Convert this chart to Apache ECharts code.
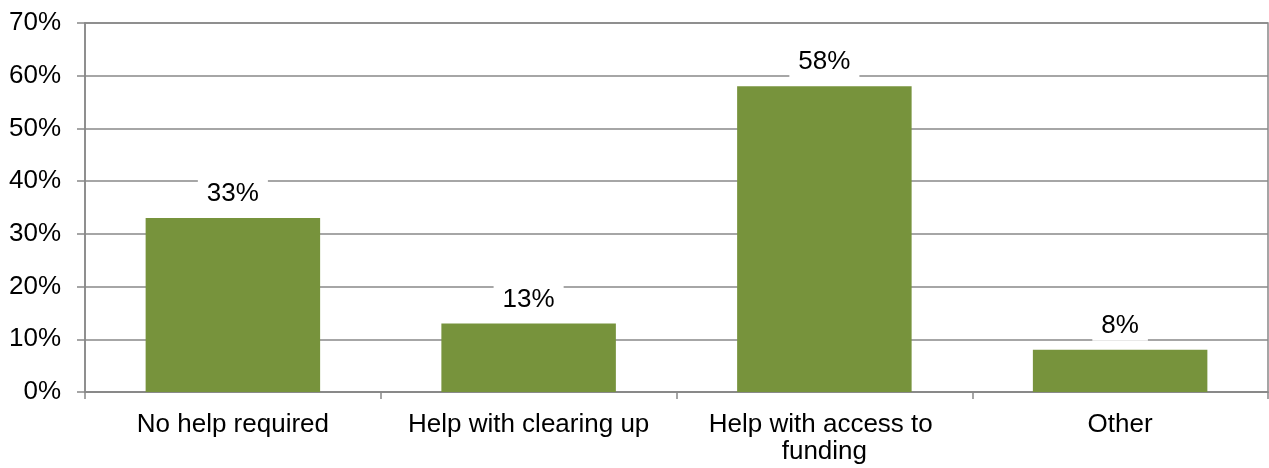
<!DOCTYPE html>
<html>
<head>
<meta charset="utf-8">
<script src="https://cdn.jsdelivr.net/npm/echarts@6/dist/echarts.min.js"></script>
<style>
  html, body { margin: 0; padding: 0; background: #fff; }
  #chart { width: 1269px; height: 468px; }
</style>
</head>
<body>
<div id="chart"></div>
<script>
// Type of help wanted, share of respondents (%)
const categories = ['No help required', 'Help with clearing up', 'Help with access to funding', 'Other'];
const shares = [33, 13, 58, 8];
const yTicks = [0, 10, 20, 30, 40, 50, 60, 70];

const gridColor = '#888888';
const barColor = '#77933C';
const fontFamily = '"Liberation Sans", Arial, sans-serif';

const chart = echarts.init(document.getElementById('chart'));
chart.setOption({
  animation: false,
  backgroundColor: '#ffffff',
  textStyle: { fontFamily: fontFamily },
  grid: {
    left: 85, right: 1, top: 23, bottom: 76,
    show: true, borderColor: gridColor, borderWidth: 1.5
  },
  xAxis: {
    type: 'category',
    data: categories,
    axisLine: { show: true, lineStyle: { color: gridColor, width: 1.5 } },
    axisTick: { show: true, length: 7, lineStyle: { color: gridColor, width: 1.5 } },
    axisLabel: {
      color: '#000', fontSize: 26, fontFamily: fontFamily,
      margin: 19, lineHeight: 27, interval: 0,
      width: 285, overflow: 'break'
    }
  },
  yAxis: {
    type: 'value',
    min: yTicks[0], max: yTicks[yTicks.length - 1], interval: 10,
    axisLine: { show: true, lineStyle: { color: gridColor, width: 1.5 } },
    axisTick: { show: true, length: 8, lineStyle: { color: gridColor, width: 1.5 } },
    splitLine: { show: true, lineStyle: { color: gridColor, width: 1.5 } },
    axisLabel: {
      color: '#000', fontSize: 26, fontFamily: fontFamily, margin: 24,
      formatter: v => v + '%'
    }
  },
  series: [{
    type: 'bar',
    data: shares,
    barCategoryGap: '41%',
    itemStyle: { color: barColor },
    label: {
      show: true,
      position: 'top',
      distance: 9,
      color: '#000',
      fontSize: 26,
      fontFamily: fontFamily,
      backgroundColor: '#ffffff',
      padding: [2, 9],
      formatter: p => p.value + '%'
    }
  }]
});
</script>
</body>
</html>
